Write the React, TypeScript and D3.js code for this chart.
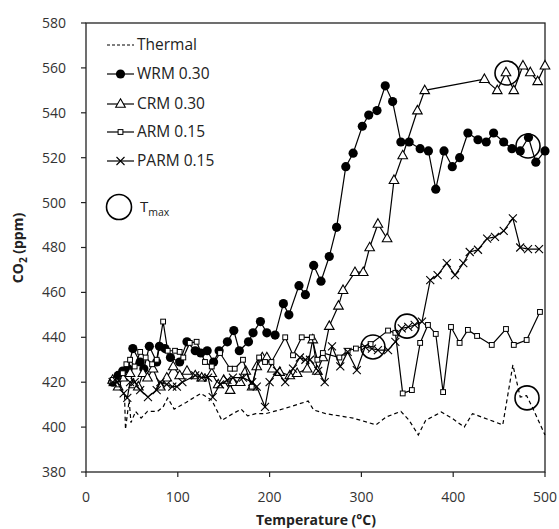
import React from 'react';
import * as d3 from 'd3';

const xTicks = [0, 100, 200, 300, 400, 500];
const yTicks = [380, 400, 420, 440, 460, 480, 500, 520, 540, 560, 580];

const thermalT = [42, 43, 47, 49, 54, 60, 67, 78, 84, 89, 96, 109, 125, 137, 148, 160, 169, 176, 185, 196, 218, 242, 248, 261, 291, 316, 327, 343, 352, 362, 370, 387, 400, 412, 421, 454, 465, 473, 480, 486, 500];
const thermalV = [414, 399, 412, 402, 407, 404, 407, 407, 409, 413, 408, 411, 415, 412, 403, 406, 408, 405, 406, 406, 408.5, 411.6, 407.6, 406, 404, 401, 404.5, 407, 403, 396.5, 403, 406.7, 403.6, 400, 406, 401, 427.7, 413.4, 414, 409, 396.5];

const wrmT = [29, 35, 40, 46, 51, 59, 63, 69, 77, 80, 86, 92, 102, 110, 119, 125, 132, 139, 145, 154, 161, 167, 177, 182, 190, 197, 206, 215, 221, 232, 239, 248, 256, 265, 273, 283, 291, 301, 308, 317, 326, 334, 343, 352, 364, 373, 381, 390, 399, 407, 416, 427, 436, 444, 455, 464, 473, 482, 490, 500];
const wrmV = [420, 423, 425, 426, 435, 429, 426, 436, 429, 436, 435, 431, 429, 438, 434, 433, 434, 429, 434, 438, 443, 434, 438, 442, 447, 442, 441, 455, 450, 463, 459, 472, 465, 476, 489, 516, 522, 534, 539, 541, 552, 545, 527, 527, 524, 523, 506, 523, 516, 520, 531, 528, 527, 531, 527, 524, 523, 529, 518, 523];

const crmT = [29, 35, 40, 48, 52, 57, 62, 67, 73, 81, 88, 95, 102, 110, 119, 126, 137, 144, 150, 157, 160, 168, 174, 181, 186, 192, 197, 203, 211, 222, 230, 241, 247, 252, 258, 265, 275, 280, 293, 302, 309, 318, 328, 335.5, 345, 361, 369, 434, 448, 457.5, 466, 476, 484, 492, 500];
const crmV = [421, 418, 422, 424, 419, 418, 424, 422, 426, 418, 422, 427, 423, 425, 423, 422, 424, 419, 421, 416.5, 420, 420, 425, 418, 427, 431, 431, 426, 424.5, 423, 424, 426, 439, 425, 431, 445, 454, 461, 469, 469, 480, 490.5, 484, 510, 521, 541, 550, 555, 550, 558, 550, 561, 558, 554, 561];

const armT = [29, 35, 40, 44, 48, 53, 59, 65, 72, 77, 84, 89, 97, 102, 106, 113, 120.5, 129.6, 137, 146, 157, 162, 171, 180.5, 188.6, 195, 202, 217, 225.5, 235, 246, 252, 258, 276, 285, 294, 310, 329, 337, 345, 355, 364, 372.5, 381, 389, 397.6, 407, 416, 426, 442, 457.5, 466, 480, 494.5];
const armV = [421, 419, 424, 428, 430, 427, 433.5, 431, 428, 430, 447, 434, 434, 433.5, 431, 437.5, 438, 429, 427, 433, 426, 426, 430, 418, 431, 429, 429, 440, 432, 440, 440, 430, 433, 431, 434, 435, 437, 443, 442, 415, 416.5, 437.5, 445.5, 441.5, 415.6, 444.6, 437.5, 443.3, 440.6, 436.6, 443.7, 436.6, 438.8, 451.3];

const parmT = [29, 34, 41, 45, 48, 53, 59, 67.5, 77, 81, 88, 94, 99, 105, 119, 126, 133, 138, 146, 154, 160, 171, 181, 186, 195, 200, 208, 217, 225.5, 233, 239, 244, 253, 260, 268, 277, 285, 295, 304, 311.5, 318, 329, 337, 344, 351, 358, 366, 375, 383, 393, 402, 411, 418, 427, 437, 445.5, 455, 465, 473, 481.5, 493.5];
const parmV = [420, 420, 415, 413, 420, 420, 416.5, 413.4, 416.5, 420, 419, 418, 418, 420, 423, 422, 422, 413.4, 419, 421, 422, 422, 420, 418, 409, 420, 425, 420, 426, 431, 430, 430, 425, 420, 436, 427, 433.5, 425.4, 435.7, 435, 434.3, 434.3, 438, 444, 444.6, 445.5, 447, 465.5, 467.7, 473, 467.7, 473, 478, 479, 484, 484.7, 487.4, 493, 480, 479.3, 479.3];

const tmaxT = [458.6, 481.5, 312.6, 349.7, 480.4];
const tmaxV = [557.7, 525.2, 435.7, 445, 413];

const legendLabels = ['Thermal', 'WRM 0.30', 'CRM 0.30', 'ARM 0.15', 'PARM 0.15'];

const zip = (t: number[], v: number[]) => t.map((d, i) => [d, v[i]] as [number, number]);

type Kind = 'none' | 'circle' | 'triangle' | 'square' | 'cross';

function Marker({ kind, x, y }: { kind: Kind; x: number; y: number }) {
  if (kind === 'circle') return <circle cx={x} cy={y} r={4.6} fill="#000" />;
  if (kind === 'triangle')
    return <path d={`M${x},${y - 5.2}L${x + 4.8},${y + 3.3}L${x - 4.8},${y + 3.3}Z`} fill="#fff" stroke="#000" strokeWidth={1.1} />;
  if (kind === 'square')
    return <rect x={x - 2.4} y={y - 2.4} width={4.8} height={4.8} fill="#fff" stroke="#000" strokeWidth={1} />;
  if (kind === 'cross')
    return <path d={`M${x - 4},${y - 4}L${x + 4},${y + 4}M${x - 4},${y + 4}L${x + 4},${y - 4}`} stroke="#000" strokeWidth={1.1} />;
  return null;
}

export default function App() {
  const W = 559, H = 529;
  const x = d3.scaleLinear().domain([0, 500]).range([86, 545]);
  const y = d3.scaleLinear().domain([380, 580]).range([472, 23]);
  const line = d3.line<[number, number]>().x(d => x(d[0])).y(d => y(d[1]));

  const series: { data: [number, number][]; kind: Kind; dash?: string }[] = [
    { data: zip(thermalT, thermalV), kind: 'none', dash: '4,3' },
    { data: zip(wrmT, wrmV), kind: 'circle' },
    { data: zip(crmT, crmV), kind: 'triangle' },
    { data: zip(armT, armV), kind: 'square' },
    { data: zip(parmT, parmV), kind: 'cross' },
  ];

  const font = "'Open Sans', 'Liberation Sans', sans-serif";
  const legendY = [45, 74, 104, 132, 161];

  return (
    <svg width={W} height={H} style={{ display: 'block', position: 'absolute', left: 0, top: 0, background: '#fff' }} fontFamily={font}>
      <rect x={0} y={0} width={W} height={H} fill="#fff" />
      <rect x={x(0)} y={y(580)} width={x(500) - x(0)} height={y(380) - y(580)} fill="none" stroke="#222" strokeWidth={1.3} />
      {yTicks.map(t => (
        <g key={'y' + t}>
          <line x1={x(0) - 5} x2={x(0)} y1={y(t)} y2={y(t)} stroke="#222" strokeWidth={1.2} />
          <text x={66} y={y(t)} dy="0.35em" textAnchor="end" fontSize={14} fill="#333">{t}</text>
        </g>
      ))}
      {xTicks.map(t => (
        <g key={'x' + t}>
          <line x1={x(t)} x2={x(t)} y1={y(380)} y2={y(380) + 5} stroke="#222" strokeWidth={1.2} />
          <text x={x(t)} y={502} textAnchor="middle" fontSize={14} fill="#333">{t}</text>
        </g>
      ))}
      <text x={316} y={525} textAnchor="middle" fontSize={14} fontWeight="bold" fill="#222">Temperature (°C)</text>
      <g transform="translate(23,248) rotate(-90)">
        <text x={0} y={0} textAnchor="middle" fontSize={14} fontWeight="bold" fill="#222">
          CO<tspan fontSize={10} dy={4}>2</tspan><tspan dy={-4}> (ppm)</tspan>
        </text>
      </g>

      {series.map((s, i) => (
        <g key={'s' + i}>
          <path d={line(s.data) || ''} fill="none" stroke="#000" strokeWidth={1.2} strokeDasharray={s.dash} />
          {s.kind !== 'none' && s.data.map((d, j) => <Marker key={j} kind={s.kind} x={x(d[0])} y={y(d[1])} />)}
        </g>
      ))}

      {tmaxT.map((t, i) => (
        <circle key={'tm' + i} cx={x(t)} cy={y(tmaxV[i])} r={12} fill="none" stroke="#000" strokeWidth={1.6} />
      ))}

      {legendLabels.map((lab, i) => (
        <g key={'l' + i}>
          <line x1={107} x2={134} y1={legendY[i]} y2={legendY[i]} stroke="#000" strokeWidth={1.2} strokeDasharray={i === 0 ? '3,2' : undefined} />
          <Marker kind={series[i].kind} x={120.5} y={legendY[i]} />
          <text x={137} y={legendY[i]} dy="0.35em" fontSize={15.5} fill="#222">{lab}</text>
        </g>
      ))}
      <circle cx={119} cy={207} r={12.5} fill="none" stroke="#000" strokeWidth={1.6} />
      <text x={140} y={207} dy="0.35em" fontSize={15} fill="#222">T<tspan fontSize={10.5} dy={4}>max</tspan></text>
    </svg>
  );
}
